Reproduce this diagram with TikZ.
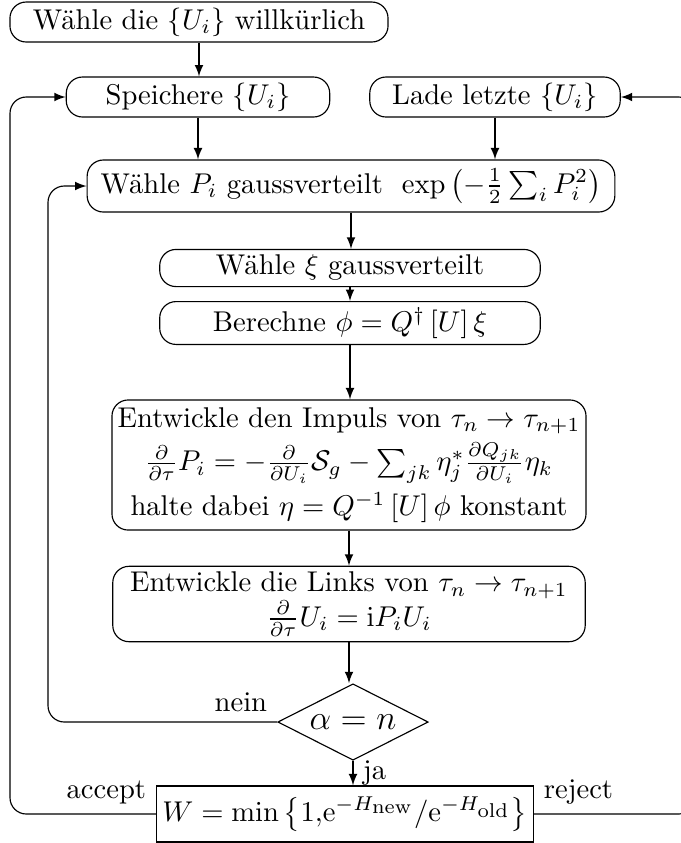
\documentclass[tikz,border=0pt]{standalone}
\usetikzlibrary{shapes.geometric}
\begin{document}
\begin{tikzpicture}[>=latex, x=0.012306cm, y=-0.012306cm,
    stepbox/.style={draw, rounded corners=0.2cm, align=center, inner sep=2pt},
    decision/.style={draw, diamond, aspect=2, inner sep=1pt, font=\large},
    weightbox/.style={draw, rectangle, inner sep=2pt}]
    \useasboundingbox (0,0) rectangle (681,843);

    % Nodes of the flow chart
    \node[stepbox, minimum width=4.65cm, minimum height=0.43cm] (start) at (199, 22) {W\"ahle die $\{U_i\}$ willk\"urlich};
    \node[stepbox, minimum width=3.24cm, minimum height=0.43cm] (save) at (198, 97) {Speichere $\{U_i\}$};
    \node[stepbox, minimum width=3.08cm, minimum height=0.43cm] (load) at (495, 97) {Lade letzte $\{U_i\}$};
    \node[stepbox, minimum width=6.49cm, minimum height=0.64cm] (momenta) at (351, 186) {W\"ahle $P_i$ gaussverteilt \ $\exp\left(-\frac{1}{2}\sum_i P_i^2\right)$};
    \node[stepbox, minimum width=4.68cm, minimum height=0.43cm] (xi) at (350, 268) {W\"ahle $\xi$ gaussverteilt};
    \node[stepbox, minimum width=4.68cm, minimum height=0.46cm] (phi) at (350, 323) {Berechne $\phi = Q^\dagger\left[U\right]\xi$};
    \node[stepbox, minimum width=5.81cm, minimum height=1.60cm] (impuls) at (349, 465) {Entwickle den Impuls von $\tau_n \rightarrow \tau_{n+1}$\\[2pt]
        $\frac{\partial}{\partial\tau}P_i = -\frac{\partial}{\partial U_i}\mathcal{S}_g - \sum_{jk}\eta_j^*\frac{\partial Q_{jk}}{\partial U_i}\eta_k$\\[2pt]
        halte dabei $\eta = Q^{-1}\left[U\right]\phi$ konstant};
    \node[stepbox, minimum width=5.81cm, minimum height=0.84cm] (links) at (349, 604) {Entwickle die Links von $\tau_n \rightarrow \tau_{n+1}$\\
        $\frac{\partial}{\partial\tau}U_i = \mathrm{i}P_iU_i$};
    \node[decision, minimum width=1.85cm, minimum height=0.94cm] (test) at (353, 722) {$\alpha = n$};
    \node[weightbox, minimum width=4.43cm, minimum height=0.69cm] (metro) at (345, 814) {$W = \min\left\{1{,}\mathrm{e}^{-H_{\mbox{\scriptsize new}}}/\mathrm{e}^{-H_{\mbox{\scriptsize old}}}\right\}$};

    % Corners of the loops
    \coordinate (innerL) at (48, 186);
    \coordinate (outerL) at (10, 97);
    \coordinate (outerR) at (695, 97);

    % Straight steps
    \draw[->] (start.south) -- (start.south |- save.north);
    \draw[->] (save.south) -- (save.south |- momenta.north);
    \draw[->] (load.south) -- (load.south |- momenta.north);
    \draw[->] (momenta.south) -- (momenta.south |- xi.north);
    \draw[->] (xi.south) -- (xi.south |- phi.north);
    \draw[->] (phi.south) -- (phi.south |- impuls.north);
    \draw[->] (impuls.south) -- (impuls.south |- links.north);
    \draw[->] (links.south) -- (links.south |- test.north);
    \draw[->] (test.south) -- (test.south |- metro.north) node[midway, right] {ja};

    % Loops back
    \draw[->, rounded corners=0.2cm] (test.west) node[above left] {nein} -| (innerL) -- (momenta.west);
    \draw[->, rounded corners=0.2cm] (metro.west) node[above left] {accept} -| (outerL) -- (save.west);
    \draw[->, rounded corners=0.2cm] (metro.east) node[above right] {reject} -| (outerR) -- (load.east);
\end{tikzpicture}
\end{document}
